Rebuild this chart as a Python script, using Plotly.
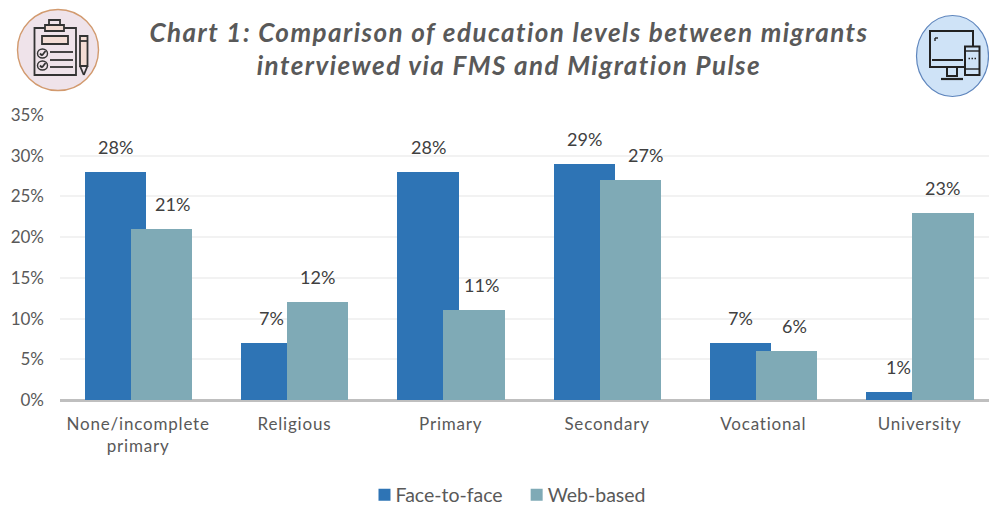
import plotly.graph_objects as go

categories = ["None/incomplete<br>primary", "Religious", "Primary", "Secondary", "Vocational", "University"]
face_to_face = [28, 7, 28, 29, 7, 1]
web_based = [21, 12, 11, 27, 6, 23]
y_ticks = [0, 5, 10, 15, 20, 25, 30, 35]
title_text = "Chart 1: Comparison of education levels between migrants<br>interviewed via FMS and Migration Pulse"

W, H = 989, 506
L, R, T, B = 60, 0, 115, 106
FONT = "Lato"
FACE_NUDGE = [-22.7, -22.7, -22.7, -22.7, -22.7, -20.7]
WEB_NUDGE = [34.2, 23.2, 31.2, 38.2, 31.2, 23.2]

def px(x):
    return (x - L) / (W - L - R)

def py(y):
    return (H - B - y) / (H - T - B)

def rect(x0, y0, x1, y1, line="#333333", fill="rgba(0,0,0,0)", w=1.8):
    return dict(type="rect", xref="paper", yref="paper", x0=px(x0), x1=px(x1), y0=py(y1), y1=py(y0),
                line=dict(color=line, width=w), fillcolor=fill, layer="above")

def circ(x0, y0, x1, y1, line="#333333", fill="rgba(0,0,0,0)", w=1.4):
    return dict(type="circle", xref="paper", yref="paper", x0=px(x0), x1=px(x1), y0=py(y1), y1=py(y0),
                line=dict(color=line, width=w), fillcolor=fill, layer="above")

def seg(x0, y0, x1, y1, line="#333333", w=1.8):
    return dict(type="line", xref="paper", yref="paper", x0=px(x0), x1=px(x1), y0=py(y0), y1=py(y1),
                line=dict(color=line, width=w), layer="above")

icons = [
    circ(17.5, 9.5, 98.5, 90.5, line="#d29a6e", fill="#efe3ea", w=1.4),
    rect(34.5, 28, 76, 75),
    rect(45, 25, 64, 31, fill="#f3dcd4"),
    rect(49, 20, 60, 25, fill="#efe3ea"),
    rect(42, 36, 68, 44, fill="#f3dcd4"),
    circ(37.5, 49, 47.5, 58),
    seg(40, 53.5, 42, 55.5), seg(42, 55.5, 45.5, 51),
    circ(37.5, 61, 47.5, 70),
    seg(40, 65.5, 42, 67.5), seg(42, 67.5, 45.5, 63),
    seg(50, 52, 73, 52), seg(50, 60, 73, 60), seg(50, 67, 73, 67),
    rect(80, 36, 87.5, 66, fill="#f3dcd4"),
    seg(80, 41, 87.5, 41),
    seg(80, 66, 83.8, 75), seg(87.5, 66, 83.8, 75),

    circ(916.5, 15.5, 988.5, 96.5, line="#5f86bd", fill="#cfe3f7", w=1.2),
    rect(930, 31, 973, 67, line="#222222", w=2),
    seg(932, 60, 963, 60, line="#222222", w=2),
    seg(935, 38, 938, 38, line="#222222", w=1.4),
    seg(935, 38, 935, 41, line="#222222", w=1.4),
    rect(947, 67, 957, 76, line="#222222", w=2),
    seg(941, 79, 963, 79, line="#222222", w=2.2),
    rect(965, 46.5, 979.5, 75, line="#222222", fill="#cfe3f7", w=2),
    seg(965, 51, 979.5, 51, line="#222222", w=1.4),
    seg(965, 69, 979.5, 69, line="#222222", w=1.4),
    seg(968.5, 58.5, 970, 58.5, line="#222222", w=1.6),
    seg(971.5, 58.5, 973, 58.5, line="#222222", w=1.6),
    seg(974.5, 58.5, 976, 58.5, line="#222222", w=1.6),
]

fig = go.Figure()
fig.add_bar(x=categories, y=face_to_face, name="Face-to-face", marker_color="#2e74b5",
            marker_line_width=0, width=0.393, offset=-0.342)
fig.add_bar(x=categories, y=web_based, name="Web-based", marker_color="#7faab6",
            marker_line_width=0, width=0.393, offset=-0.048)

labels = []
for values, nudges in ((face_to_face, FACE_NUDGE), (web_based, WEB_NUDGE)):
    for cat, v, shift in zip(categories, values, nudges):
        labels.append(dict(x=cat, y=v, text=f"{v}%", showarrow=False, xshift=shift, yshift=12,
                           yanchor="bottom", font=dict(family=FONT, size=18, color="#404040")))

fig.update_layout(
    width=W, height=H, autosize=False,
    margin=dict(l=L, r=R, t=T, b=B),
    barmode="overlay",
    paper_bgcolor="white", plot_bgcolor="white",
    font=dict(family=FONT, color="#595959"),
    title=dict(text=title_text, x=509 / W, xanchor="center", y=1 - 41.5 / H, yanchor="middle",
               font=dict(family=FONT, size=26, weight="bold", style="italic", color="#595959")),
    legend=dict(orientation="h", x=512 / W, xref="container", xanchor="center", y=1 - 495 / H, yref="container",
                yanchor="middle", font=dict(family=FONT, size=19.5, color="#595959"),
                itemwidth=30, traceorder="normal"),
    shapes=icons,
    annotations=labels,
    bargap=0,
)
fig.update_xaxes(range=[-0.5, (W - L - R) / 156.3 - 0.5], showgrid=False, ticks="", showline=False,
                 tickfont=dict(family=FONT, size=17, color="#595959"), tickangle=0, ticklabelstandoff=12)
fig.update_yaxes(range=[0, 35], tickvals=y_ticks, ticktext=[f"{v}%" for v in y_ticks], showgrid=True,
                 gridcolor="#f2f2f2", gridwidth=2, zeroline=True, zerolinecolor="#bfbfbf", zerolinewidth=3,
                 ticks="", showline=False, tickfont=dict(family=FONT, size=17, color="#595959"),
                 ticklabelstandoff=15)

post = """
document.body.style.margin = '0';
document.querySelectorAll('.gtitle').forEach(e => e.style.letterSpacing = '1.46px');
document.querySelectorAll('.xtick text').forEach(e => e.style.letterSpacing = '0.8px');
document.querySelectorAll('.legendtext').forEach(e => e.setAttribute('x', parseFloat(e.getAttribute('x')) - 9));
"""
fig.write_html("out.html", post_script=post, config={"displayModeBar": False})
